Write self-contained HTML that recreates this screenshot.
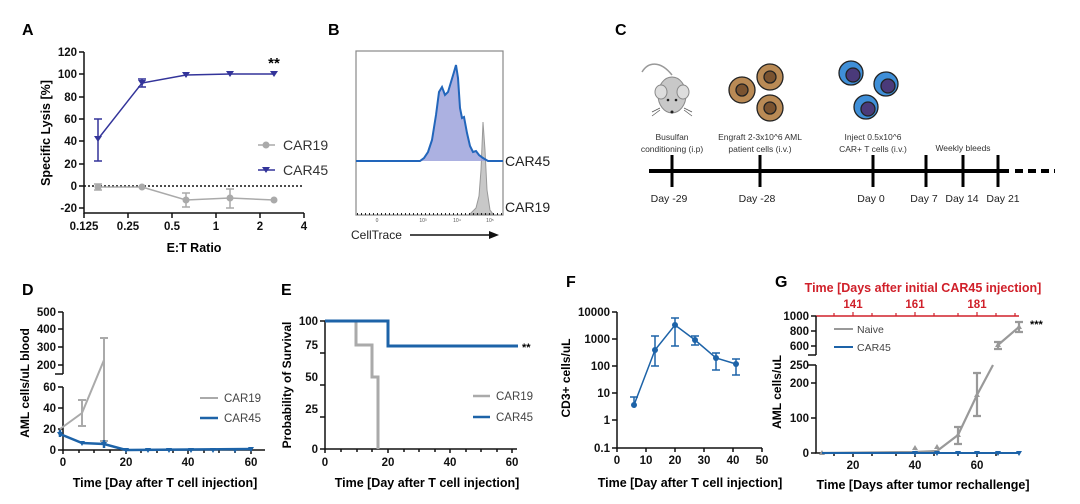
<!DOCTYPE html>
<html><head><meta charset="utf-8"><style>
html,body{margin:0;padding:0;background:#fff;}
svg{display:block;font-family:"Liberation Sans",Arial,sans-serif;}
.b{font-weight:bold;}
.tk{font-size:11.5px;font-weight:bold;fill:#111;}
.ax{stroke:#111;stroke-width:1.5;fill:none;}
</style></head><body>
<svg width="1080" height="504" viewBox="0 0 1080 504" xmlns="http://www.w3.org/2000/svg">
<g class="b" font-size="16" fill="#000">
<text x="22" y="35">A</text><text x="328" y="35">B</text><text x="615" y="35">C</text>
<text x="22" y="295">D</text><text x="281" y="295">E</text><text x="566" y="287">F</text><text x="775" y="287">G</text>
</g>

<!-- ===== Panel A ===== -->
<g>
<path class="ax" d="M84,52 V213 H304"/>
<g class="ax"><path d="M79,52H84M79,74H84M79,97H84M79,119H84M79,141H84M79,164H84M79,186H84M79,208H84"/>
<path d="M84,213v5M128,213v5M172,213v5M216,213v5M260,213v5M304,213v5"/></g>
<g class="tk" text-anchor="end">
<text x="77" y="56">120</text><text x="77" y="78">100</text><text x="77" y="101">80</text><text x="77" y="123">60</text>
<text x="77" y="145">40</text><text x="77" y="168">20</text><text x="77" y="190">0</text><text x="77" y="212">-20</text></g>
<g class="tk" text-anchor="middle">
<text x="84" y="230">0.125</text><text x="128" y="230">0.25</text><text x="172" y="230">0.5</text><text x="216" y="230">1</text><text x="260" y="230">2</text><text x="304" y="230">4</text></g>
<text x="194" y="252" class="b" font-size="12.5" text-anchor="middle">E:T Ratio</text>
<text transform="translate(50,133) rotate(-90)" class="b" font-size="12.5" text-anchor="middle">Specific Lysis  [%]</text>
<path d="M84,186H304" stroke="#111" stroke-width="1.5" stroke-dasharray="2,2"/>
<g stroke="#aaa" stroke-width="1.5" fill="none">
<path d="M98,187 L142,187 L186,200 L230,198 L274,200"/>
<path d="M98,184V190M94,184h8M94,190h8M186,193V207M182,193h8M182,207h8M230,189V208M226,189h8M226,208h8"/>
</g>
<g fill="#aaa"><circle cx="98" cy="187" r="3.5"/><circle cx="142" cy="187" r="3.5"/><circle cx="186" cy="200" r="3.5"/><circle cx="230" cy="198" r="3.5"/><circle cx="274" cy="200" r="3.5"/></g>
<g stroke="#33349a" stroke-width="1.5" fill="none">
<path d="M98,139 L142,83 L186,75 L230,74 L274,74"/>
<path d="M98,119V161M94,119h8M94,161h8M142,79V87M138,79h8M138,87h8"/>
</g>
<g fill="#33349a"><path d="M94,136h8l-4,6z"/><path d="M138,80h8l-4,6z"/><path d="M182,72h8l-4,6z"/><path d="M226,71h8l-4,6z"/><path d="M270,71h8l-4,6z"/></g>
<text x="274" y="68" class="b" font-size="15" text-anchor="middle">**</text>
<path d="M258,145h17" stroke="#aaa" stroke-width="1.5"/><circle cx="266" cy="145" r="3.5" fill="#aaa"/>
<text x="283" y="150" font-size="14" fill="#333">CAR19</text>
<path d="M258,170h17" stroke="#33349a" stroke-width="1.5"/><path d="M262,167h8l-4,6z" fill="#33349a"/>
<text x="283" y="175" font-size="14" fill="#333">CAR45</text>
</g>

<!-- ===== Panel B ===== -->
<g>
<rect x="356" y="51" width="147" height="164" fill="none" stroke="#888" stroke-width="1.2"/>
<path d="M470,214 L476,208 L479,196 L481,170 L483,122 L485,150 L487,190 L490,210 L493,214 Z" fill="#c8c8c8" stroke="#999" stroke-width="1"/>
<path d="M420,161 L424,158 L428,152 L432,140 L436,115 L439,92 L442,87 L445,95 L448,92 L451,82 L454,72 L456,65 L458,78 L460,108 L462,118 L464,117 L467,133 L470,146 L473,152 L476,151 L479,155 L483,158 L488,161 Z" fill="#9ea3dc" opacity="0.85"/>
<path d="M356,161 L420,161 L424,158 L428,152 L432,140 L436,115 L439,92 L442,87 L445,95 L448,92 L451,82 L454,72 L456,65 L458,78 L460,108 L462,118 L464,117 L467,133 L470,146 L473,152 L476,151 L479,155 L483,158 L488,161 L503,161" fill="none" stroke="#2266bb" stroke-width="2"/>
<path d="M357,214 H502" stroke="#222" stroke-width="2" stroke-dasharray="1,3"/>
<text x="505" y="166" font-size="14" fill="#222">CAR45</text>
<text x="505" y="212" font-size="14" fill="#222">CAR19</text>
<g font-size="5" fill="#555" text-anchor="middle"><text x="377" y="222">0</text><text x="423" y="222">10³</text><text x="457" y="222">10⁴</text><text x="490" y="222">10⁵</text></g>
<text x="351" y="239" font-size="12" fill="#222">CellTrace</text>
<path d="M410,235 H490" stroke="#111" stroke-width="1.5"/><path d="M489,231 L499,235 L489,239Z" fill="#111"/>
</g>

<!-- ===== Panel C ===== -->
<g>
<g>
<path d="M672,75 C660,60 648,62 642,72" stroke="#999" stroke-width="1.5" fill="none"/>
<ellipse cx="672" cy="95" rx="14" ry="18" fill="#c8c8c8" stroke="#888"/>
<ellipse cx="661" cy="92" rx="6" ry="7" fill="#ddd" stroke="#888"/>
<ellipse cx="683" cy="92" rx="6" ry="7" fill="#ddd" stroke="#888"/>
<circle cx="668" cy="100" r="1.3" fill="#222"/><circle cx="676" cy="100" r="1.3" fill="#222"/>
<circle cx="672" cy="112" r="1.5" fill="#222"/>
<path d="M660,108l-8,4M660,110l-8,6M684,108l8,4M684,110l8,6" stroke="#555" stroke-width="0.7"/>
</g>
<g stroke="#222" stroke-width="1.3">
<circle cx="742" cy="90" r="13" fill="#b98a55"/><circle cx="742" cy="90" r="6" fill="#7a5330"/>
<circle cx="770" cy="77" r="13" fill="#b98a55"/><circle cx="770" cy="77" r="6" fill="#7a5330"/>
<circle cx="770" cy="108" r="13" fill="#b98a55"/><circle cx="770" cy="108" r="6" fill="#7a5330"/>
</g>
<g stroke="#222" stroke-width="1.3">
<circle cx="851" cy="73" r="12" fill="#3f8fd8"/><circle cx="853" cy="75" r="7" fill="#4a3a7a"/>
<circle cx="886" cy="84" r="12" fill="#3f8fd8"/><circle cx="888" cy="86" r="7" fill="#4a3a7a"/>
<circle cx="866" cy="107" r="12" fill="#3f8fd8"/><circle cx="868" cy="109" r="7" fill="#4a3a7a"/>
</g>
<g font-size="8.5" fill="#333" text-anchor="middle">
<text x="672" y="140">Busulfan</text><text x="672" y="152">conditioning (i.p)</text>
<text x="760" y="140">Engraft 2-3x10^6 AML</text><text x="760" y="152">patient cells (i.v.)</text>
<text x="873" y="140">Inject 0.5x10^6</text><text x="873" y="152">CAR+ T cells (i.v.)</text>
<text x="963" y="151">Weekly bleeds</text>
</g>
<path d="M649,171 H1009" stroke="#000" stroke-width="4"/>
<path d="M1015,171 H1055" stroke="#000" stroke-width="4" stroke-dasharray="8,5"/>
<path d="M672,155V187M760,155V187M873,155V187M926,155V187M963,155V187M998,155V187" stroke="#000" stroke-width="3"/>
<g font-size="10.5" fill="#222" text-anchor="middle">
<text x="669" y="202">Day -29</text><text x="757" y="202">Day -28</text><text x="871" y="202">Day 0</text>
<text x="924" y="202">Day 7</text><text x="962" y="202">Day 14</text><text x="1003" y="202">Day 21</text>
</g>
</g>

<!-- ===== Panel D ===== -->
<g>
<path class="ax" d="M63,312 V374 M63,387 V450 H265"/>
<g class="ax"><path d="M58,312h5M58,329h5M58,347h5M58,365h5M55,374h8M58,387h5M58,408h5M58,429h5M58,450h5"/>
<path d="M63,450v4M126,450v4M188,450v4M251,450v4M79,450v3M94,450v3M110,450v3M141,450v3M157,450v3M173,450v3M204,450v3M219,450v3M235,450v3"/></g>
<g class="tk" text-anchor="end"><text x="56" y="316">500</text><text x="56" y="333">400</text><text x="56" y="351">300</text><text x="56" y="369">200</text>
<text x="56" y="391">60</text><text x="56" y="412">40</text><text x="56" y="433">20</text><text x="56" y="454">0</text></g>
<g class="tk" text-anchor="middle"><text x="63" y="466">0</text><text x="126" y="466">20</text><text x="188" y="466">40</text><text x="251" y="466">60</text></g>
<text x="165" y="487" class="b" font-size="12.5" text-anchor="middle">Time [Day after T cell injection]</text>
<text transform="translate(29,383) rotate(-90)" class="b" font-size="12" text-anchor="middle">AML cells/uL blood</text>
<g stroke="#aaa" stroke-width="2" fill="none">
<path d="M60,429 L82,413 L104,360"/>
<path d="M82,400V426M78,400h8M78,426h8M104,338V441M100,338h8M100,441h8"/>
</g>
<g stroke="#1d63a8" stroke-width="2.5" fill="none">
<path d="M60,434 L82,443 L104,444 L126,450 L251,449"/>
<path d="M60,430V437M104,440V448"/>
</g>
<g fill="#1d63a8"><path d="M57,432h6l-3,5z"/><path d="M79,441h6l-3,5z"/><path d="M101,442h6l-3,5z"/><path d="M123,448h6l-3,5z"/><path d="M145,448h6l-3,5z"/><path d="M166,448h6l-3,5z"/><path d="M188,448h6l-3,5z"/><path d="M210,448h6l-3,5z"/><path d="M232,448h6l-3,5z"/><path d="M248,447h6l-3,5z"/></g>
<path d="M200,398h18" stroke="#aaa" stroke-width="2"/><text x="224" y="402" font-size="11.5" fill="#444">CAR19</text>
<path d="M200,418h18" stroke="#1d63a8" stroke-width="2.5"/><text x="224" y="422" font-size="11.5" fill="#444">CAR45</text>
</g>

<!-- ===== Panel E ===== -->
<g>
<path class="ax" d="M325,321 V449 H517"/>
<g class="ax"><path d="M320,321h5M320,353h5M320,385h5M320,417h5M320,449h5"/>
<path d="M325,449v4M388,449v4M450,449v4M512,449v4M341,449v3M357,449v3M372,449v3M404,449v3M419,449v3M435,449v3M466,449v3M481,449v3M497,449v3"/></g>
<g class="tk" text-anchor="end"><text x="318" y="325">100</text><text x="318" y="349">75</text><text x="318" y="381">50</text><text x="318" y="413">25</text><text x="318" y="453">0</text></g>
<g class="tk" text-anchor="middle"><text x="325" y="466">0</text><text x="388" y="466">20</text><text x="450" y="466">40</text><text x="512" y="466">60</text></g>
<text x="427" y="487" class="b" font-size="12.5" text-anchor="middle">Time [Day after T cell injection]</text>
<text transform="translate(291,385) rotate(-90)" class="b" font-size="12" text-anchor="middle">Probability of Survival</text>
<path d="M325,321 H356 V345 H372 V377 H378 V449" stroke="#aaa" stroke-width="3" fill="none"/>
<path d="M325,321 H388 V346 H518" stroke="#1d63a8" stroke-width="3" fill="none"/>
<text x="522" y="351" class="b" font-size="11">**</text>
<path d="M473,396h17" stroke="#aaa" stroke-width="2.5"/><text x="496" y="400" font-size="11.5" fill="#444">CAR19</text>
<path d="M473,417h17" stroke="#1d63a8" stroke-width="2.5"/><text x="496" y="421" font-size="11.5" fill="#444">CAR45</text>
</g>

<!-- ===== Panel F ===== -->
<g>
<path class="ax" d="M617,312 V448 H762"/>
<g class="ax"><path d="M612,312h5M612,339h5M612,366h5M612,393h5M612,420h5M612,448h5"/>
<path d="M617,448v4M646,448v4M675,448v4M704,448v4M733,448v4M762,448v4"/></g>
<g class="tk" text-anchor="end"><text x="610" y="316">10000</text><text x="610" y="343">1000</text><text x="610" y="370">100</text><text x="610" y="397">10</text><text x="610" y="424">1</text><text x="610" y="452">0.1</text></g>
<g class="tk" text-anchor="middle"><text x="617" y="464">0</text><text x="646" y="464">10</text><text x="675" y="464">20</text><text x="704" y="464">30</text><text x="733" y="464">40</text><text x="762" y="464">50</text></g>
<text x="690" y="487" class="b" font-size="12.5" text-anchor="middle">Time [Day after T cell injection]</text>
<text transform="translate(570,378) rotate(-90)" class="b" font-size="12" text-anchor="middle">CD3+ cells/uL</text>
<g stroke="#1d63a8" stroke-width="1.5" fill="none">
<path d="M634,405 L655,350 L675,325 L695,340 L716,358 L736,364"/>
<path d="M634,397V405M630,397h8M655,336V366M651,336h8M651,366h8M675,318V346M671,318h8M671,346h8M695,336V345M691,336h8M691,345h8M716,353V370M712,353h8M712,370h8M736,359V375M732,359h8M732,375h8"/>
</g>
<g fill="#1d63a8"><circle cx="634" cy="405" r="3"/><circle cx="655" cy="350" r="3"/><circle cx="675" cy="325" r="3"/><circle cx="695" cy="340" r="3"/><circle cx="716" cy="358" r="3"/><circle cx="736" cy="364" r="3"/></g>
</g>

<!-- ===== Panel G ===== -->
<g>
<path d="M816,316 H1019" stroke="#d0202a" stroke-width="1.5"/>
<path d="M853,316v-4M915,316v-4M977,316v-4M834,316v-3M872,316v-3M896,316v-3M934,316v-3M958,316v-3M996,316v-3M1015,316v-3" stroke="#d0202a" stroke-width="1.2"/>
<g class="tk" style="fill:#d0202a" text-anchor="middle"><text x="853" y="308">141</text><text x="915" y="308">161</text><text x="977" y="308">181</text></g>
<text x="923" y="292" class="b" font-size="12.5" fill="#d0202a" text-anchor="middle">Time [Days after initial CAR45 injection]</text>
<path class="ax" d="M816,316 V355 M816,365 V453 H1019"/>
<g class="ax"><path d="M811,316h5M811,331h5M811,346h5M808,355h8M808,365h8M811,383h5M811,418h5M811,453h5"/>
<path d="M853,453v4M915,453v4M977,453v4M834,453v3M872,453v3M896,453v3M934,453v3M958,453v3M996,453v3"/></g>
<g class="tk" text-anchor="end"><text x="809" y="320">1000</text><text x="809" y="335">800</text><text x="809" y="350">600</text><text x="809" y="369">250</text><text x="809" y="387">200</text><text x="809" y="422">100</text><text x="809" y="457">0</text></g>
<g class="tk" text-anchor="middle"><text x="853" y="469">20</text><text x="915" y="469">40</text><text x="977" y="469">60</text></g>
<text x="923" y="489" class="b" font-size="12.5" text-anchor="middle">Time [Days after tumor rechallenge]</text>
<text transform="translate(781,392) rotate(-90)" class="b" font-size="12" text-anchor="middle">AML cells/uL</text>
<g stroke="#999" stroke-width="2.2" fill="none">
<path d="M822,453 L915,452 L937,451 L958,435 L977,395 L993,365"/>
<path d="M998,345 L1019,327"/>
<path d="M958,427V444M954,427h8M954,444h8M977,373V416M973,373h8M973,416h8M998,342V349M994,342h8M994,349h8M1019,322V332M1015,322h8M1015,332h8"/>
</g>
<g fill="#999"><path d="M819,455h6l-3,-5z"/><path d="M912,450h6l-3,-5z"/><path d="M934,449h6l-3,-5z"/><path d="M955,437h6l-3,-5z"/><path d="M974,397h6l-3,-5z"/><path d="M995,347h6l-3,-5z"/><path d="M1016,329h6l-3,-5z"/></g>
<path d="M822,453 H1019" stroke="#1d63a8" stroke-width="2"/>
<g fill="#1d63a8"><path d="M912,451h6l-3,5z"/><path d="M934,451h6l-3,5z"/><path d="M955,451h6l-3,5z"/><path d="M974,451h6l-3,5z"/><path d="M995,451h6l-3,5z"/><path d="M1016,451h6l-3,5z"/></g>
<text x="1030" y="328" class="b" font-size="11">***</text>
<path d="M834,329h19" stroke="#999" stroke-width="2"/><text x="857" y="333" font-size="10.5" fill="#444">Naive</text>
<path d="M834,347h19" stroke="#1d63a8" stroke-width="2"/><text x="857" y="351" font-size="10.5" fill="#444">CAR45</text>
</g>
</svg>
</body></html>
